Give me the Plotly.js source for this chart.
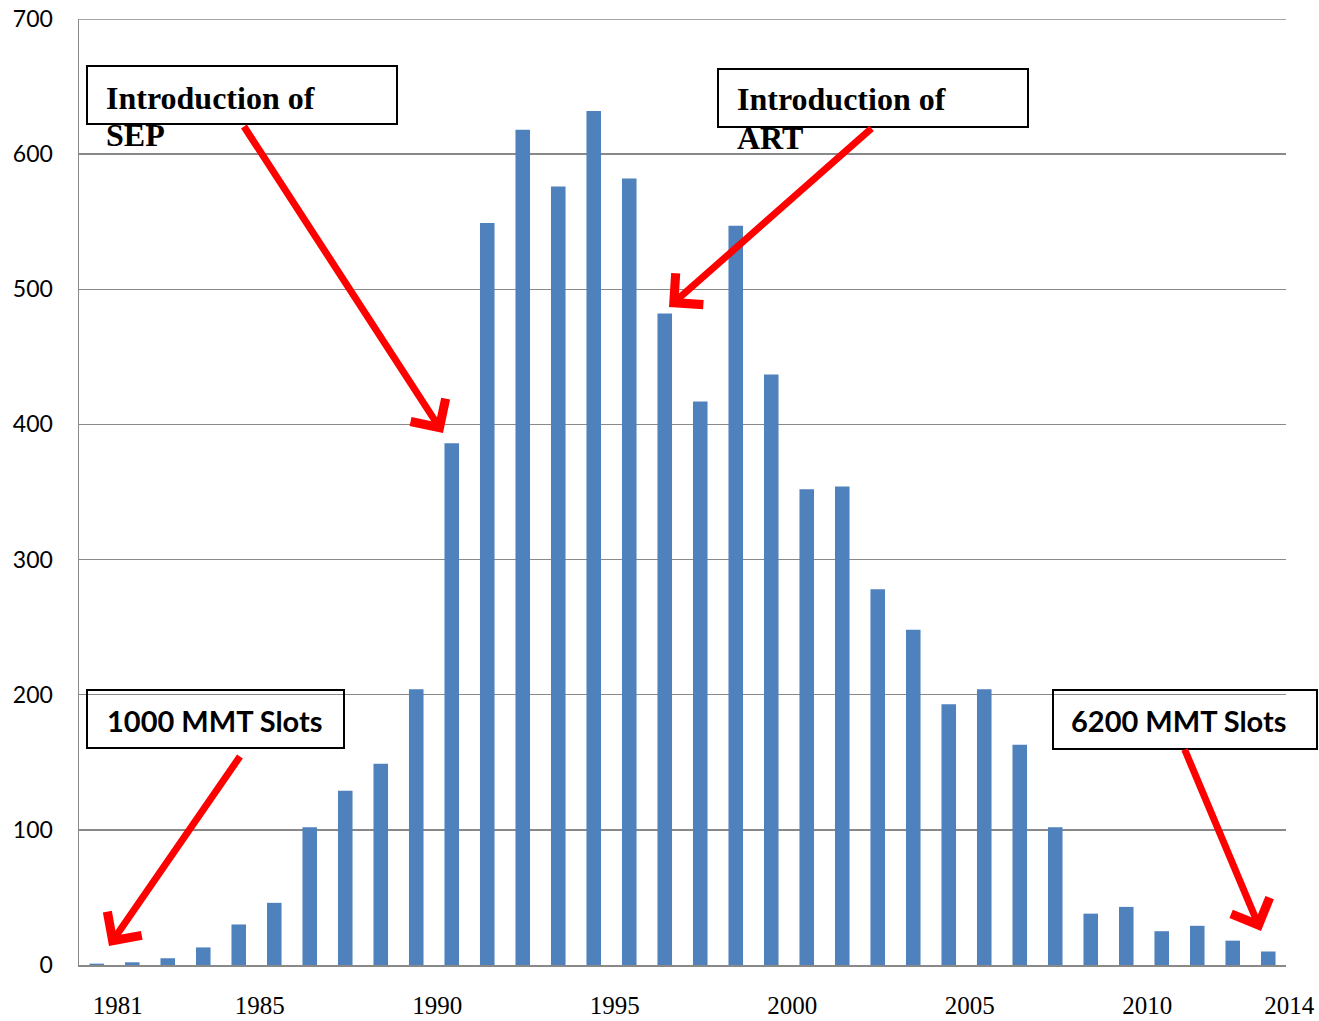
<!DOCTYPE html>
<html><head><meta charset="utf-8">
<script src="https://cdn.plot.ly/plotly-3.0.1.min.js"></script>
<style>html,body{margin:0;padding:0;background:#fff}#chart{width:1319px;height:1021px}</style>
</head><body><div id="chart"></div>
<script>
// ---- data ----
const years = [1981,1982,1983,1984,1985,1986,1987,1988,1989,1990,1991,1992,1993,1994,1995,1996,1997,
               1998,1999,2000,2001,2002,2003,2004,2005,2006,2007,2008,2009,2010,2011,2012,2013,2014];
const counts = [1,2,5,13,30,46,102,129,149,204,386,549,618,576,632,582,482,417,547,437,
                352,354,278,248,193,204,163,102,38,43,25,29,18,10];
const tickYears = [1981,1985,1990,1995,2000,2005,2010,2014];
const tickLabels = ['1981','1985','1990','1995','2000','2005','2010','2014'];
const yTicks = [0,100,200,300,400,500,600,700];
const boxTexts = [['Introduction of','SEP'],['Introduction of','ART'],['1000 MMT Slots'],['6200 MMT Slots']];

// ---- layout helpers (pixel geometry of the page) ----
const W=1319,H=1021,L=79,R=33,T=19,B=56;
const PW=W-L-R, PH=H-T-B;
const fx = p => (p-L)/PW;
const fy = p => (H-B-p)/PH;
const grey = '#898989';

const rect = (x0,y0,x1,y1) => ({type:'rect',xref:'paper',yref:'paper',x0:fx(x0),x1:fx(x1),y0:fy(y1),y1:fy(y0),
  line:{color:'#000',width:2},fillcolor:'rgba(0,0,0,0)'});
const serif = {family:'Liberation Serif, Times New Roman, serif',size:32,color:'#000',weight:'bold'};
const sans = {family:'Lato, Open Sans, sans-serif',size:29,color:'#000',weight:'bold'};
const label = (txt,x,y,font) => ({text:'<b>'+txt+'</b>',xref:'paper',yref:'paper',x:fx(x),y:fy(y),
  xanchor:'left',yanchor:'middle',showarrow:false,font:font});
const arrow = (hx,hy,tx,ty) => ({text:'',xref:'paper',yref:'paper',x:fx(hx),y:fy(hy),ax:tx-hx,ay:ty-hy,
  showarrow:true,arrowhead:4,arrowsize:1.15,arrowwidth:7,arrowcolor:'#ff0000',standoff:0,startstandoff:0});

const trace = {type:'bar',x:years,y:counts,marker:{color:'#4f81bd'},hoverinfo:'skip'};

const layout = {
  width:W,height:H,margin:{l:L,r:R,t:T,b:B},paper_bgcolor:'#fff',plot_bgcolor:'#fff',
  showlegend:false,bargap:0.59,
  xaxis:{range:[1980.5,2014.5],tickmode:'array',tickvals:tickYears,ticktext:tickLabels,
    ticklabelshift:21,ticklabelstandoff:17,ticks:'',showgrid:false,zeroline:false,
    showline:true,linecolor:grey,linewidth:1.5,
    tickfont:{family:'Liberation Serif, Times New Roman, serif',size:25,color:'#000'}},
  yaxis:{range:[0,700],tickmode:'array',tickvals:yTicks,ticks:'',showgrid:true,gridcolor:grey,gridwidth:1.5,
    zeroline:false,showline:true,linecolor:grey,linewidth:1.5,ticklabelstandoff:20,
    tickfont:{family:'Lato, Open Sans, sans-serif',size:23,color:'#000'}},
  shapes:[
    {type:'line',xref:'paper',yref:'y',x0:0,x1:1,y0:700,y1:700,line:{color:grey,width:1.5},layer:'below'},
    rect(87,66,397,124),rect(718,69,1028,127),rect(87,690,344,748),rect(1053,690,1317,749)],
  annotations:[
    label(boxTexts[0][0],104,97.5,serif),label(boxTexts[0][1],104,134.5,serif),
    label(boxTexts[1][0],735,99,serif),label(boxTexts[1][1],735,138,serif),
    label(boxTexts[2][0],105,720,sans),label(boxTexts[3][0],1069,720,sans),
    arrow(443,433,243,125),arrow(669,307,873,127),arrow(109,946,241,755),arrow(1261,931,1184,748)
  ]
};
Plotly.newPlot('chart',[trace],layout,{staticPlot:true,displayModeBar:false});
</script></body></html>
